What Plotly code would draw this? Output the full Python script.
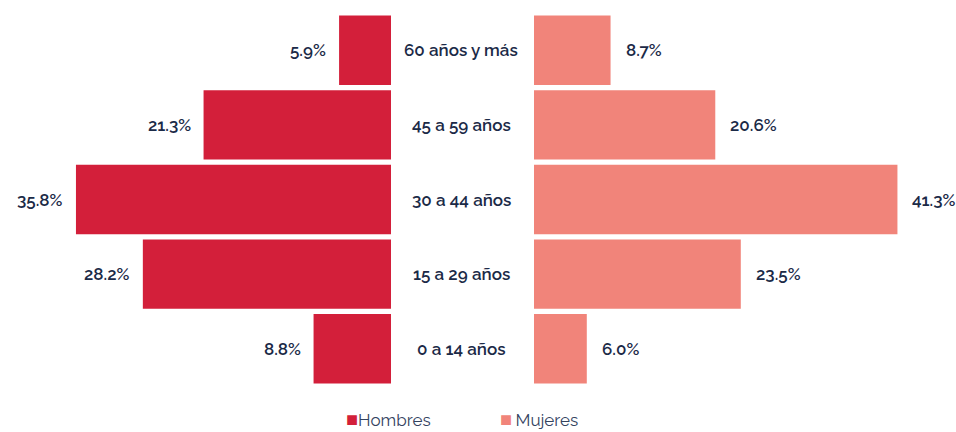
import plotly.graph_objects as go

categories = ["0 a 14 años", "15 a 29 años", "30 a 44 años", "45 a 59 años", "60 años y más"]
hombres = [8.8, 28.2, 35.8, 21.3, 5.9]
mujeres = [6.0, 23.5, 41.3, 20.6, 8.7]
series_names = ["Hombres", "Mujeres"]

c_h = "#D31F3A"
c_m = "#F1847A"
txt = "#1B2A47"
font_fam = "Raleway, Lato, 'Open Sans', sans-serif"

fig = go.Figure()
fig.add_trace(go.Bar(y=categories, x=hombres, orientation="h", name=series_names[0],
                     marker=dict(color=c_h, line=dict(width=0)), xaxis="x", yaxis="y",
                     hoverinfo="skip", showlegend=False))
fig.add_trace(go.Bar(y=categories, x=mujeres, orientation="h", name=series_names[1],
                     marker=dict(color=c_m, line=dict(width=0)), xaxis="x2", yaxis="y2",
                     hoverinfo="skip", showlegend=False))

ann = []
for c, v in zip(categories, hombres):
    ann.append(dict(x=v, y=c, xref="x", yref="y", text=f"{v:.1f}%", showarrow=False,
                    xanchor="right", xshift=-11,
                    font=dict(size=17, color=txt, family=font_fam, weight=600)))
for c, v in zip(categories, mujeres):
    ann.append(dict(x=v, y=c, xref="x2", yref="y2", text=f"{v:.1f}%", showarrow=False,
                    xanchor="left", xshift=13,
                    font=dict(size=17, color=txt, family=font_fam, weight=600)))
for c in categories:
    ann.append(dict(x=461 / 956, y=c, xref="paper", yref="y", text=c, showarrow=False,
                    xanchor="center",
                    font=dict(size=17, color=txt, family=font_fam, weight=600)))

# legend drawn as annotations to keep the tight swatch/text spacing
for name, col, xpos, gap in [(series_names[0], c_h, 344, ""), (series_names[1], c_m, 498, "&#8201;")]:
    ann.append(dict(x=xpos / 956, y=-0.088, xref="paper", yref="paper",
                    text=f'<span style="color:{col};font-size:20px">■</span>{gap}{name}', showarrow=False,
                    xanchor="left", yanchor="middle",
                    font=dict(size=17, color="#34435F", family=font_fam)))

px_per = 8.8
fig.update_layout(
    width=956, height=432,
    margin=dict(l=0, r=0, t=13, b=46),
    plot_bgcolor="white", paper_bgcolor="white",
    bargap=0.07,
    showlegend=False,
    xaxis=dict(domain=[0, 391 / 956], range=[391 / px_per, 0], visible=False),
    xaxis2=dict(domain=[534 / 956, 1], range=[0, 422 / px_per], visible=False),
    yaxis=dict(visible=False, range=[-0.5, 4.5]),
    yaxis2=dict(visible=False, range=[-0.5, 4.5], anchor="x2", overlaying="y"),
    annotations=ann,
)

fig.write_html("out.html", config={"displayModeBar": False},
               post_script="document.body.style.margin='0';")
